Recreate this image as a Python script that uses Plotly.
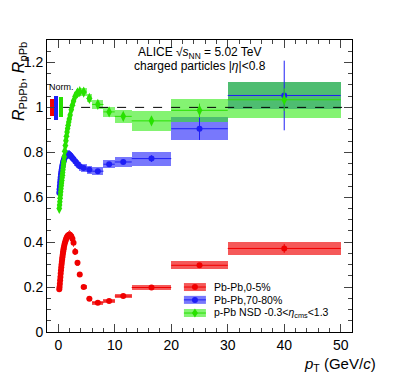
import plotly.graph_objects as go

# pT bin centres and full bin widths (GeV/c)
pt = [0.175, 0.225, 0.275, 0.325, 0.375, 0.425, 0.475, 0.525, 0.575, 0.625, 0.675, 0.725, 0.775, 0.825, 0.875, 0.925, 0.975,
      1.05, 1.15, 1.25, 1.35, 1.45, 1.55, 1.65, 1.75, 1.85, 1.95,
      2.1, 2.3, 2.5, 2.7, 3.0, 3.4, 3.8, 4.5, 5.5, 7, 9, 11.5, 16.5, 25, 40]
pt_width = [0.05, 0.05, 0.05, 0.05, 0.05, 0.05, 0.05, 0.05, 0.05, 0.05, 0.05, 0.05, 0.05, 0.05, 0.05, 0.05, 0.05,
            0.1, 0.1, 0.1, 0.1, 0.1, 0.1, 0.1, 0.1, 0.1, 0.1,
            0.2, 0.2, 0.2, 0.2, 0.4, 0.4, 0.4, 1, 1, 2, 2, 3, 7, 10, 20]

# Pb-Pb 0-5%
raa_central = [0.19, 0.20, 0.215, 0.23, 0.245, 0.26, 0.275, 0.288, 0.30, 0.312, 0.323, 0.333, 0.343, 0.352, 0.36, 0.368, 0.375,
               0.385, 0.395, 0.404, 0.412, 0.418, 0.423, 0.427, 0.43, 0.432, 0.433,
               0.432, 0.426, 0.415, 0.397, 0.357, 0.308, 0.256, 0.20, 0.148, 0.13, 0.138, 0.16, 0.198, 0.297, 0.372]
raa_central_stat = [0, 0, 0, 0, 0, 0, 0, 0, 0, 0, 0, 0, 0, 0, 0, 0, 0,
                    0, 0, 0, 0, 0, 0, 0, 0, 0, 0,
                    0, 0, 0, 0, 0.002, 0.002, 0.002, 0.002, 0.002, 0.003, 0.004, 0.005, 0.006, 0.01, 0.02]
raa_central_syst = [0.01, 0.01, 0.01, 0.011, 0.011, 0.012, 0.012, 0.013, 0.013, 0.014, 0.014, 0.015, 0.015, 0.016, 0.016, 0.016, 0.017,
                    0.017, 0.018, 0.018, 0.018, 0.019, 0.019, 0.019, 0.019, 0.019, 0.019,
                    0.019, 0.019, 0.018, 0.018, 0.016, 0.014, 0.012, 0.01, 0.008, 0.008, 0.008, 0.008, 0.01, 0.017, 0.03]

# Pb-Pb 70-80%
raa_periph = [0.62, 0.635, 0.65, 0.664, 0.677, 0.689, 0.70, 0.709, 0.717, 0.725, 0.732, 0.739, 0.745, 0.751, 0.756, 0.761, 0.765,
              0.771, 0.777, 0.782, 0.786, 0.789, 0.791, 0.792, 0.792, 0.791, 0.789,
              0.786, 0.781, 0.775, 0.769, 0.76, 0.748, 0.738, 0.73, 0.722, 0.716, 0.747, 0.757, 0.772, 0.905, 1.053]
raa_periph_stat = [0, 0, 0, 0, 0, 0, 0, 0, 0, 0, 0, 0, 0, 0, 0, 0, 0,
                   0, 0, 0, 0, 0, 0, 0, 0, 0, 0,
                   0, 0, 0, 0, 0.002, 0.002, 0.003, 0.003, 0.004, 0.005, 0.008, 0.008, 0.015, 0.05, 0.155]
raa_periph_syst = [0.02, 0.02, 0.02, 0.02, 0.02, 0.02, 0.02, 0.02, 0.02, 0.02, 0.02, 0.02, 0.02, 0.02, 0.02, 0.02, 0.02,
                   0.02, 0.02, 0.02, 0.02, 0.02, 0.02, 0.02, 0.02, 0.02, 0.02,
                   0.02, 0.02, 0.02, 0.02, 0.02, 0.019, 0.019, 0.018, 0.018, 0.018, 0.018, 0.022, 0.031, 0.05, 0.062]

# p-Pb NSD
rppb = [0.55, 0.565, 0.58, 0.595, 0.61, 0.624, 0.638, 0.651, 0.663, 0.675, 0.687, 0.698, 0.71, 0.722, 0.735, 0.748, 0.76,
        0.78, 0.805, 0.83, 0.852, 0.872, 0.89, 0.906, 0.921, 0.935, 0.948,
        0.966, 0.99, 1.01, 1.028, 1.05, 1.065, 1.07, 1.068, 1.04, 1.013, 0.98, 0.96, 0.94, 0.987, 1.034]
rppb_stat = [0, 0, 0, 0, 0, 0, 0, 0, 0, 0, 0, 0, 0, 0, 0, 0, 0,
             0, 0, 0, 0, 0, 0, 0, 0, 0, 0,
             0, 0, 0, 0, 0.002, 0.002, 0.003, 0.003, 0.004, 0.005, 0.006, 0.008, 0.015, 0.03, 0.05]
rppb_syst = [0.018, 0.018, 0.018, 0.018, 0.018, 0.018, 0.018, 0.018, 0.018, 0.018, 0.018, 0.018, 0.018, 0.018, 0.018, 0.018, 0.018,
             0.018, 0.018, 0.018, 0.018, 0.018, 0.018, 0.018, 0.018, 0.018, 0.018,
             0.018, 0.018, 0.018, 0.018, 0.018, 0.018, 0.018, 0.018, 0.018, 0.02, 0.022, 0.03, 0.045, 0.052, 0.08]

# normalisation uncertainties around unity
norm_x = [-1.1, -0.4, 0.5]
norm_width = [0.6, 0.75, 0.6]
norm_lo = [0.963, 0.945, 0.957]
norm_hi = [1.037, 1.05, 1.046]

series = [
    ('Pb-Pb,0-5%', raa_central, raa_central_stat, raa_central_syst,
     'rgb(240,0,0)', 'rgba(240,0,0,0.65)', 'circle', 6),
    ('Pb-Pb,70-80%', raa_periph, raa_periph_stat, raa_periph_syst,
     'rgb(30,30,245)', 'rgba(30,30,250,0.6)', 'circle', 6),
    ('p-Pb NSD -0.3<<i>η</i><sub>cms</sub><1.3', rppb, rppb_stat, rppb_syst,
     'rgb(40,225,0)', 'rgba(50,235,20,0.6)', 'diamond-tall', 8),
]

fig = go.Figure()

# unity reference line
fig.add_trace(go.Scatter(x=[0.85, 52], y=[1, 1], mode='lines', showlegend=False,
                         line=dict(color='black', width=1, dash='dash')))

# normalisation boxes
norm_cols = ['rgb(240,0,0)', 'rgb(30,30,245)', 'rgb(40,225,0)']
for i in range(3):
    fig.add_trace(go.Bar(x=[norm_x[i]], y=[norm_hi[i] - norm_lo[i]], base=[norm_lo[i]],
                         width=[norm_width[i]], marker=dict(color=norm_cols[i], line=dict(width=0)),
                         showlegend=False))

# hand-made legend, ROOT style (box + line + marker)
leg_x = 0.485
leg_y = [0.154, 0.110, 0.065]

for k, (name, vals, stat, syst, col, boxcol, sym, msize) in enumerate(series):
    half = [w / 2 for w in pt_width]
    fig.add_trace(go.Bar(x=pt, y=[2 * s for s in syst], base=[v - s for v, s in zip(vals, syst)],
                         width=pt_width, marker=dict(color=boxcol, line=dict(width=0)),
                         showlegend=False))
    fig.add_trace(go.Scatter(x=pt, y=vals, mode='markers', showlegend=False,
                             marker=dict(color=col, size=msize, symbol=sym, line=dict(width=0)),
                             error_y=dict(type='data', array=stat, color=col, width=0, thickness=1),
                             error_x=dict(type='data', array=half, color=col, width=0, thickness=1)))

    ly = leg_y[k]
    fig.add_shape(type='rect', xref='paper', yref='paper', xsizemode='pixel', ysizemode='pixel',
                  xanchor=leg_x, yanchor=ly, x0=-11, x1=11, y0=-4, y1=4,
                  fillcolor=boxcol, line=dict(width=0))
    fig.add_shape(type='line', xref='paper', yref='paper', xsizemode='pixel', ysizemode='pixel',
                  xanchor=leg_x, yanchor=ly, x0=-11, x1=11, y0=0, y1=0,
                  line=dict(color=col, width=1))
    if sym == 'circle':
        fig.add_shape(type='circle', xref='paper', yref='paper', xsizemode='pixel', ysizemode='pixel',
                      xanchor=leg_x, yanchor=ly, x0=-3, x1=3, y0=-3, y1=3,
                      fillcolor=col, line=dict(width=0))
    else:
        fig.add_shape(type='path', xref='paper', yref='paper', xsizemode='pixel', ysizemode='pixel',
                      xanchor=leg_x, yanchor=ly, path='M 0 -4.5 L 3 0 L 0 4.5 L -3 0 Z',
                      fillcolor=col, line=dict(width=0))
    fig.add_annotation(x=0.541, y=ly, xref='paper', yref='paper', xanchor='left', yanchor='middle',
                       text=name, showarrow=False, font=dict(size=10.5))

fig.add_annotation(x=0.5, y=1.089, xref='x', yref='y', text='Norm.', showarrow=False,
                   font=dict(size=9, color='black'))
fig.add_annotation(x=0.502, y=0.955, xref='paper', yref='paper', showarrow=False, yanchor='middle',
                   text='ALICE √<i>s</i><sub>NN</sub> = 5.02 TeV', font=dict(size=12))
fig.add_annotation(x=0.502, y=0.91, xref='paper', yref='paper', showarrow=False, yanchor='middle',
                   text='charged particles |<i>η</i>|<0.8', font=dict(size=12))
fig.add_annotation(x=1.085, y=-0.113, xref='paper', yref='paper', xanchor='right', yanchor='middle',
                   showarrow=False, text='<i>p</i><sub>T</sub> (GeV/<i>c</i>)', font=dict(size=15))
fig.add_annotation(x=-0.128, y=1.0, xref='paper', yref='paper', xanchor='left', yanchor='top',
                   textangle=-90, showarrow=False,
                   text='<i>R</i><sub>PbPb</sub>, <i>R</i><sub>pPb</sub>', font=dict(size=16))

# the page body adds an 8 px offset, so the margins are shifted to compensate
fig.update_layout(
    width=396, height=374,
    margin=dict(l=39, r=52, t=32, b=50),
    plot_bgcolor='white', paper_bgcolor='white',
    font=dict(family='Liberation Sans', color='black'),
    barmode='overlay', bargap=0, showlegend=False,
)
fig.update_xaxes(range=[-2, 52], tick0=0, dtick=10, ticks='inside', ticklen=8, showgrid=False,
                 showline=True, linecolor='black', linewidth=1, mirror='allticks', zeroline=False,
                 tickfont=dict(size=14),
                 minor=dict(dtick=2, ticks='inside', ticklen=4, showgrid=False))
fig.update_yaxes(range=[0, 1.3], tick0=0, dtick=0.2, ticks='inside', ticklen=8, showgrid=False,
                 showline=True, linecolor='black', linewidth=1, mirror='allticks', zeroline=False,
                 tickfont=dict(size=14),
                 minor=dict(dtick=0.05, ticks='inside', ticklen=4, showgrid=False))

fig.write_html("out.html")
